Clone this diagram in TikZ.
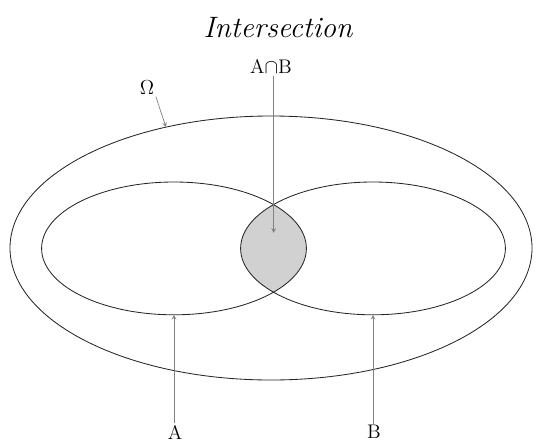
\documentclass[tikz,border=0pt]{standalone}
\usepackage{tikz}
\usetikzlibrary{shapes.geometric, arrows, positioning, calc}

\begin{document}
\begin{tikzpicture}[
        >=stealth,
        setshape/.style={
            ellipse, draw=black!85, line width=0.6pt, inner sep=0pt, outer sep=0pt
        },
        lbl/.style={font=\fontsize{14}{16}\selectfont, inner sep=1pt},
        pointer/.style={->, line width=0.5pt, color=black!50}
    ]
    \useasboundingbox (0,0) rectangle (13.4,11.1);

    % --- Intersection fill ---
    \begin{scope}
        \clip (4.35,4.89) ellipse (3.31 and 1.66);
        \fill[black!18] (9.325,4.89) ellipse (3.31 and 1.66);
    \end{scope}

    % --- Sets ---
    \node[setshape, minimum width=13.05cm, minimum height=6.6cm] (omega) at (6.775,4.9) {};
    \node[setshape, minimum width=6.62cm, minimum height=3.32cm] (setA) at (4.35,4.89) {};
    \node[setshape, minimum width=6.62cm, minimum height=3.32cm] (setB) at (9.325,4.89) {};
    \coordinate (lens) at (6.84,5.28);

    % --- Labels ---
    \node[font=\fontsize{21}{24}\selectfont\itshape] (title) at (6.95,10.4) {Intersection};
    \node[lbl] (capLbl) at (6.775,9.43) {A$\cap$B};
    \node[lbl] (omegaLbl) at (3.675,8.9) {$\Omega$};
    \node[lbl] (aLbl) at (4.375,0.3) {A};
    \node[lbl] (bLbl) at (9.35,0.3) {B};

    % --- Pointers ---
    \draw[pointer] (capLbl.south -| lens) -- (lens);
    \draw[pointer] (omegaLbl.south east) -- (omega.131);
    \draw[pointer] (aLbl.north -| setA.south) -- (setA.south);
    \draw[pointer] (bLbl.north -| setB.south) -- (setB.south);

\end{tikzpicture}
\end{document}
